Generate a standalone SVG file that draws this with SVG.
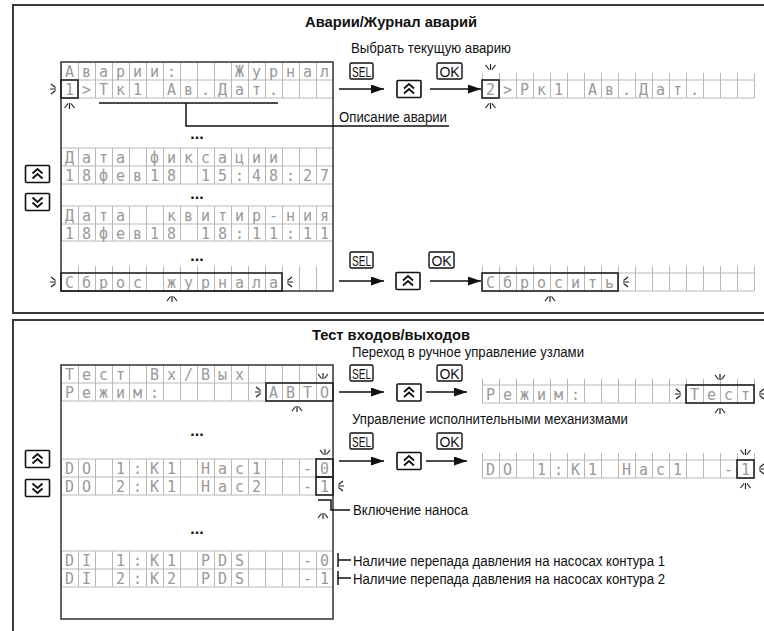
<svg xmlns="http://www.w3.org/2000/svg" width="764" height="631" viewBox="0 0 764 631">
<defs>
<style>
.lcd{font-family:"DejaVu Sans Mono","Liberation Mono",monospace;font-size:15px;fill:#999;text-anchor:middle}
.hz{stroke:#b8b8b8;stroke-width:1;fill:none}
.frame{stroke:#333;stroke-width:1.5;fill:none}
.hl{stroke:#222;stroke-width:1.6;fill:none}
.lbl{font-family:"Liberation Sans",Arial,sans-serif;font-size:15.5px;fill:#111}
.ttl{font-family:"Liberation Sans",Arial,sans-serif;font-size:15px;font-weight:bold;fill:#111}
.dots{font-family:"Liberation Sans",Arial,sans-serif;font-size:16px;font-weight:bold;fill:#111;text-anchor:middle}
.key rect{fill:#fff;stroke:#111;stroke-width:1.4}
.key text{font-family:"Liberation Sans",Arial,sans-serif;font-size:14px;fill:#111;text-anchor:middle}
.ln{stroke:#111;stroke-width:1.5;fill:none}
.arr{stroke:#111;stroke-width:1.5;fill:none;marker-end:url(#ah)}
.panel{stroke:#3a3a3a;stroke-width:2;fill:none}
</style>
<pattern id="vg1" x="61" y="0" width="17" height="10" patternUnits="userSpaceOnUse"><rect x="0" y="0" width="1" height="10" fill="#b8b8b8"/></pattern>
<pattern id="vg2" x="482" y="0" width="17" height="10" patternUnits="userSpaceOnUse"><rect x="0" y="0" width="1" height="10" fill="#b8b8b8"/></pattern>
<marker id="ah" markerWidth="13" markerHeight="9" refX="13" refY="4.5" orient="auto" markerUnits="userSpaceOnUse"><path d="M0,0L13,4.5L0,9z" fill="#111"/></marker>
<g id="bd"><path d="M0,-8V-2M-5,-7L-1.5,-2.5M5,-7L1.5,-2.5" fill="none" stroke="#222" stroke-width="1.2"/></g>
<g id="up"><rect x="-12" y="-8.5" width="24" height="17" rx="1" fill="#fff" stroke="#111" stroke-width="1.6"/><path d="M-5,-0.5L0,-5L5,-0.5M-5,4.5L0,0L5,4.5" fill="none" stroke="#111" stroke-width="1.8"/></g>
</defs>
<rect x="0" y="0" width="764" height="631" fill="#fff"/>

<g id="panel-alarms">
<rect class="panel" x="13" y="5" width="760" height="308"/>
<text class="ttl" x="305" y="27" textLength="172" lengthAdjust="spacingAndGlyphs">Аварии/Журнал аварий</text>
</g>
<g id="panel-test">
<rect class="panel" x="13" y="320" width="760" height="330"/>
<text class="ttl" x="312" y="340" textLength="158" lengthAdjust="spacingAndGlyphs">Тест входов/выходов</text>
</g>

<g id="lcd-journal">
<rect x="61" y="62" width="272" height="36" fill="url(#vg1)"/>
<rect x="61" y="148" width="272" height="36" fill="url(#vg1)"/>
<rect x="61" y="206" width="272" height="35" fill="url(#vg1)"/>
<rect x="61" y="266" width="272" height="25" fill="url(#vg1)"/>
<path class="hz" d="M61,80H333M61,98H333M61,148H333M61,166H333M61,184H333M61,206H333M61,224H333M61,241H333"/>
<rect class="frame" x="61" y="62" width="272" height="229"/>
<text class="lcd" x="69.5 86.5 103.5 120.5 137.5 154.5 171.5 239.5 256.5 273.5 290.5 307.5 324.5" y="76.5">Аварии:Журнал</text>
<text class="lcd" x="69.5 86.5 103.5 120.5 137.5 171.5 188.5 205.5 222.5 239.5 256.5 273.5" y="94.5">1&gt;Тк1Ав.Дат.</text>
<text class="lcd" x="69.5 86.5 103.5 120.5 154.5 171.5 188.5 205.5 222.5 239.5 256.5 273.5" y="162.5">Датафиксации</text>
<text class="lcd" x="69.5 86.5 103.5 120.5 137.5 154.5 171.5 205.5 222.5 239.5 256.5 273.5 290.5 307.5 324.5" y="180.5">18фев1815:48:27</text>
<text class="lcd" x="69.5 86.5 103.5 120.5 171.5 188.5 205.5 222.5 239.5 256.5 273.5 290.5 307.5 324.5" y="220.5">Датаквитир-ния</text>
<text class="lcd" x="69.5 86.5 103.5 120.5 137.5 154.5 171.5 205.5 222.5 239.5 256.5 273.5 290.5 307.5 324.5" y="238.5">18фев1818:11:11</text>
<text class="lcd" x="69.5 86.5 103.5 120.5 137.5 171.5 188.5 205.5 222.5 239.5 256.5 273.5" y="287.5">Сбросжурнала</text>
<text class="dots" x="197" y="139">...</text>
<text class="dots" x="197" y="199">...</text>
<text class="dots" x="197" y="261">...</text>
<rect class="hl" x="61" y="80" width="17" height="18"/>
<rect class="hl" x="61" y="273" width="221" height="18"/>
<use href="#bd" transform="translate(58,89) rotate(-90)"/>
<use href="#bd" transform="translate(69.5,101) rotate(180)"/>
<use href="#bd" transform="translate(58,282) rotate(-90)"/>
<use href="#bd" transform="translate(285,282) rotate(90)"/>
<use href="#bd" transform="translate(172,294) rotate(180)"/>
</g>

<g id="btn-up-1"><use href="#up" transform="translate(37.5,174)"/></g>
<g id="btn-down-1"><use href="#up" transform="translate(37.5,202) rotate(180)"/></g>

<g id="label-select"><text class="lbl" x="351" y="53" textLength="160" lengthAdjust="spacingAndGlyphs">Выбрать текущую аварию</text></g>
<g id="label-desc"><text class="lbl" x="339" y="122" textLength="108" lengthAdjust="spacingAndGlyphs">Описание аварии</text></g>

<g id="key-sel-1" class="key"><rect x="350" y="63" width="23" height="16" rx="1.5"/><text x="361.5" y="76.5" textLength="19" lengthAdjust="spacingAndGlyphs">SEL</text></g>
<g id="btn-up-2"><use href="#up" transform="translate(409,89)"/></g>
<g id="key-ok-1" class="key"><rect x="437" y="63" width="25" height="16" rx="1.5"/><text x="449.5" y="76.5">OK</text></g>

<g id="lcd-current">
<rect x="482" y="73" width="273" height="25" fill="url(#vg2)"/>
<path class="hz" d="M482,80H754M482,98H754"/>
<text class="lcd" x="490.5 507.5 524.5 541.5 558.5 592.5 609.5 626.5 643.5 660.5 677.5 694.5" y="94.5">2&gt;Рк1Ав.Дат.</text>
<rect class="hl" x="482" y="80" width="17" height="18"/>
<use href="#bd" transform="translate(490.5,72)"/>
<use href="#bd" transform="translate(490.5,101) rotate(180)"/>
</g>

<g id="key-sel-2" class="key"><rect x="350" y="252" width="23" height="16" rx="1.5"/><text x="361.5" y="265.5" textLength="19" lengthAdjust="spacingAndGlyphs">SEL</text></g>
<g id="btn-up-3"><use href="#up" transform="translate(408,281)"/></g>
<g id="key-ok-2" class="key"><rect x="429" y="252" width="25" height="16" rx="1.5"/><text x="441.5" y="265.5">OK</text></g>

<g id="lcd-reset">
<rect x="482" y="266" width="273" height="25" fill="url(#vg2)"/>
<path class="hz" d="M482,273H754M482,291H754"/>
<text class="lcd" x="490.5 507.5 524.5 541.5 558.5 575.5 592.5 609.5" y="287.5">Сбросить</text>
<rect class="hl" x="482" y="273" width="136" height="18"/>
<use href="#bd" transform="translate(621,282) rotate(90)"/>
<use href="#bd" transform="translate(550,294) rotate(180)"/>
</g>

<g id="lcd-test">
<rect x="61" y="365" width="272" height="36" fill="url(#vg1)"/>
<rect x="61" y="459" width="272" height="36" fill="url(#vg1)"/>
<rect x="61" y="551" width="272" height="36" fill="url(#vg1)"/>
<path class="hz" d="M61,383H333M61,401H333M61,459H333M61,477H333M61,495H333M61,551H333M61,569H333M61,587H333"/>
<rect class="frame" x="61" y="365" width="272" height="254"/>
<text class="lcd" x="69.5 86.5 103.5 120.5 154.5 171.5 188.5 205.5 222.5 239.5" y="379.5">ТестВх/Вых</text>
<text class="lcd" x="69.5 86.5 103.5 120.5 137.5 154.5 273.5 290.5 307.5 324.5" y="397.5">Режим:АВТО</text>
<text class="lcd" x="69.5 86.5 120.5 137.5 154.5 171.5 205.5 222.5 239.5 256.5 307.5 324.5" y="473.5">DO1:К1Нас1-0</text>
<text class="lcd" x="69.5 86.5 120.5 137.5 154.5 171.5 205.5 222.5 239.5 256.5 307.5 324.5" y="491.5">DO2:К1Нас2-1</text>
<text class="lcd" x="69.5 86.5 120.5 137.5 154.5 171.5 205.5 222.5 239.5 307.5 324.5" y="565.5">DI1:К1PDS-0</text>
<text class="lcd" x="69.5 86.5 120.5 137.5 154.5 171.5 205.5 222.5 239.5 307.5 324.5" y="583.5">DI2:К2PDS-1</text>
<text class="dots" x="197" y="436">...</text>
<text class="dots" x="197" y="534">...</text>
<rect class="hl" x="266" y="383" width="67" height="18"/>
<rect class="hl" x="316" y="459" width="17" height="18"/>
<rect class="hl" x="316" y="477" width="17" height="18"/>
<use href="#bd" transform="translate(263,392) rotate(-90)"/>
<use href="#bd" transform="translate(323,381)"/>
<use href="#bd" transform="translate(297,404) rotate(180)"/>
<use href="#bd" transform="translate(325,457)"/>
<use href="#bd" transform="translate(336,486) rotate(90)"/>
<use href="#bd" transform="translate(323,511) rotate(180)"/>
</g>

<g id="btn-up-4"><use href="#up" transform="translate(37.5,459)"/></g>
<g id="btn-down-2"><use href="#up" transform="translate(37.5,488) rotate(180)"/></g>

<g id="label-manual"><text class="lbl" x="352" y="357" textLength="232" lengthAdjust="spacingAndGlyphs">Переход в ручное управление узлами</text></g>
<g id="key-sel-3" class="key"><rect x="350" y="365" width="23" height="16" rx="1.5"/><text x="361.5" y="378.5" textLength="19" lengthAdjust="spacingAndGlyphs">SEL</text></g>
<g id="btn-up-5"><use href="#up" transform="translate(409,392.5)"/></g>
<g id="key-ok-3" class="key"><rect x="437" y="365" width="25" height="16" rx="1.5"/><text x="449.5" y="378.5">OK</text></g>

<g id="lcd-mode">
<rect x="482" y="379" width="273" height="24" fill="url(#vg2)"/>
<path class="hz" d="M482,385H754M482,403H754"/>
<text class="lcd" x="490.5 507.5 524.5 541.5 558.5 575.5 694.5 711.5 728.5 745.5" y="399.5">Режим:Тест</text>
<rect class="hl" x="686" y="385" width="68" height="18"/>
<use href="#bd" transform="translate(683,394) rotate(-90)"/>
<use href="#bd" transform="translate(757,394) rotate(90)"/>
<use href="#bd" transform="translate(720,382)"/>
<use href="#bd" transform="translate(720,406) rotate(180)"/>
</g>

<g id="label-actuators"><text class="lbl" x="352" y="424" textLength="276" lengthAdjust="spacingAndGlyphs">Управление исполнительными механизмами</text></g>
<g id="key-sel-4" class="key"><rect x="350" y="433" width="23" height="16" rx="1.5"/><text x="361.5" y="446.5" textLength="19" lengthAdjust="spacingAndGlyphs">SEL</text></g>
<g id="btn-up-6"><use href="#up" transform="translate(409,461)"/></g>
<g id="key-ok-4" class="key"><rect x="437" y="433" width="25" height="16" rx="1.5"/><text x="449.5" y="446.5">OK</text></g>

<g id="lcd-do">
<rect x="482" y="453" width="273" height="25" fill="url(#vg2)"/>
<path class="hz" d="M482,460H754M482,478H754"/>
<text class="lcd" x="490.5 507.5 541.5 558.5 575.5 592.5 626.5 643.5 660.5 677.5 728.5 745.5" y="474.5">DO1:К1Нас1-1</text>
<rect class="hl" x="737" y="460" width="17" height="18"/>
<use href="#bd" transform="translate(745.5,457)"/>
<use href="#bd" transform="translate(757,469) rotate(90)"/>
<use href="#bd" transform="translate(745.5,481) rotate(180)"/>
</g>

<g id="label-pump"><text class="lbl" x="353" y="515" textLength="115" lengthAdjust="spacingAndGlyphs">Включение наноса</text></g>
<g id="label-di1"><text class="lbl" x="353" y="565.5" textLength="312" lengthAdjust="spacingAndGlyphs">Наличие перепада давления на насосах контура 1</text></g>
<g id="label-di2"><text class="lbl" x="353" y="583.5" textLength="312" lengthAdjust="spacingAndGlyphs">Наличие перепада давления на насосах контура 2</text></g>

<g id="connectors">
<path class="ln" d="M99,103H278M186,103V126H449"/>
<path class="arr" d="M339,89H384"/>
<path class="arr" d="M430,89H481"/>
<path class="arr" d="M339,281H384"/>
<path class="arr" d="M430,281H481"/>
<path class="arr" d="M339,392H384"/>
<path class="arr" d="M426,392H467"/>
<path class="arr" d="M339,461H384"/>
<path class="arr" d="M426,461H467"/>
<path class="ln" d="M318,500H331V510H350"/>
<path class="ln" d="M338,553V567M338,560H351M338,571V585M338,578H351"/>
</g>
</svg>
